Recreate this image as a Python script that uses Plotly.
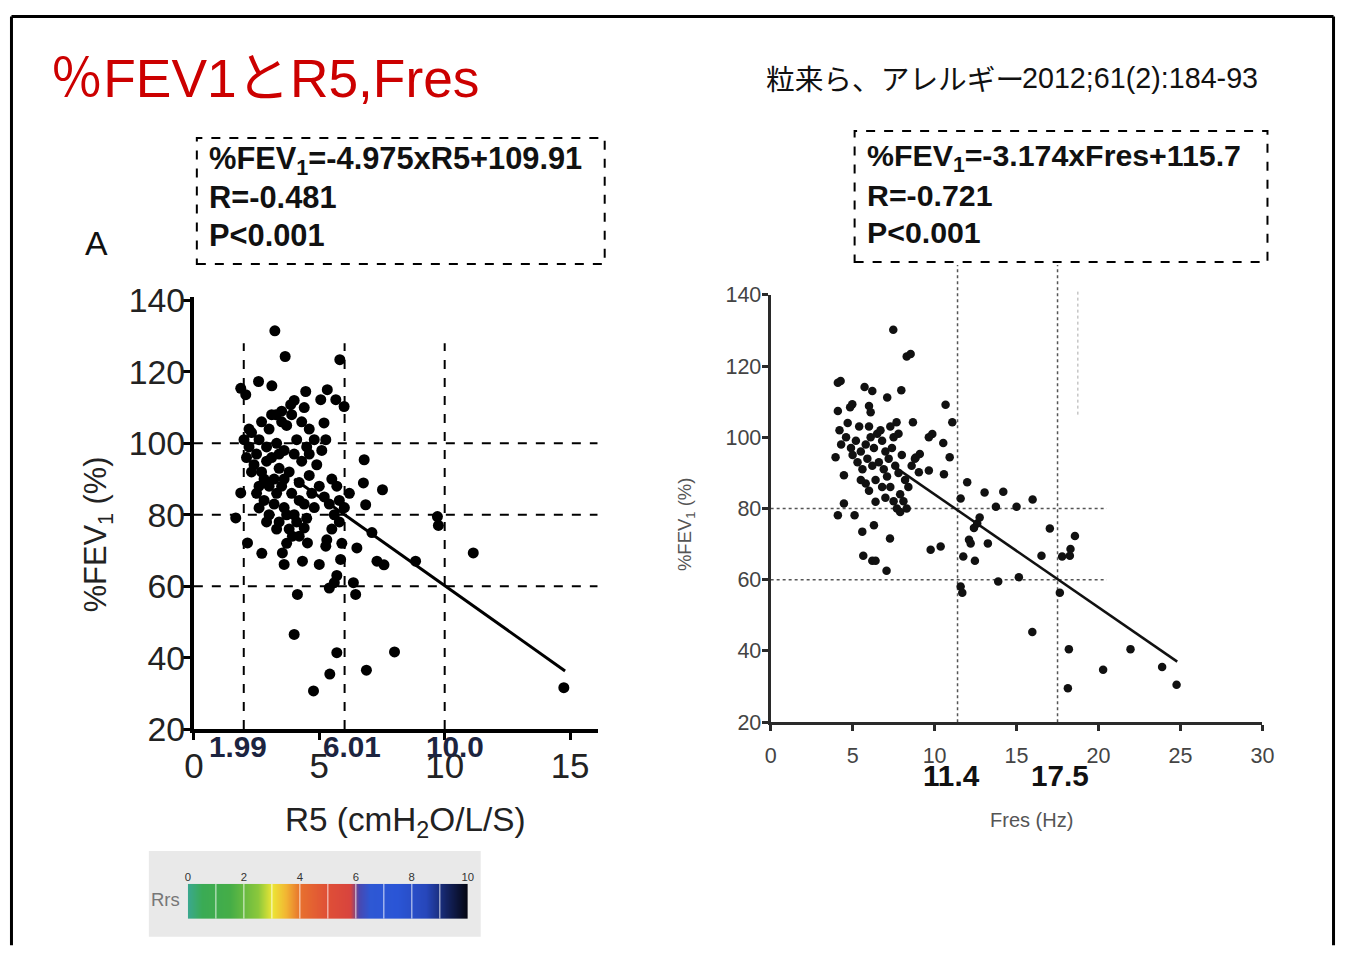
import plotly.graph_objects as go

W, H = 1347, 955
# measured mapping of the photographed page: picture = A * page + B
AX, BX = 0.984, 9.1
AY, BY = 0.966, 14.7
FS = 1.0 / 0.975  # compensation for the photo's down-scaling

# ---------------- data ----------------
# Left panel: R5 (cmH2O/L/S) vs %FEV1
r5_x = [3.23, 3.64, 5.82, 2.58, 3.11, 1.87, 2.07, 4.46, 5.32, 5.99, 5.66, 3.86, 3.27, 5.06, 5.19, 5.26,
        6.79, 6.76, 7.52, 6.85, 1.87, 1.67, 2.6, 2.14, 2.71, 9.71, 9.75, 11.14, 8.84, 7.3, 7.58, 7.1,
        6.5, 6.36, 6.45, 5.6, 5.4, 5.7, 5.85, 4.13, 4.0, 5.7, 8.0, 6.88, 5.42, 4.77, 14.75, 4.33,
        3.53, 3.6, 4.53, 5.0, 5.26, 3.93, 4.4,
        2.0, 2.2, 2.3, 2.5, 2.6, 2.4, 2.7, 2.9, 3.0, 3.1, 3.2, 3.3, 3.4, 3.5, 3.6, 3.7, 3.8, 3.9,
        4.0, 4.1, 4.2, 4.3, 4.4, 4.5, 4.6, 4.7, 2.6, 2.8, 3.0, 3.2, 3.4, 3.6, 3.8, 4.0, 4.2, 2.3,
        2.5, 3.1, 3.5, 3.9, 4.3, 4.6, 2.9, 3.3, 3.7, 4.1, 4.5, 4.8, 5.0, 5.2, 5.4, 5.6, 5.8, 5.5,
        5.3, 5.8, 4.9, 4.4, 4.0, 3.5, 2.7, 2.2, 2.1, 3.4, 3.6, 3.0, 2.8, 4.6, 4.8, 5.1, 5.5, 5.7,
        4.2, 3.7, 3.3, 2.9, 5.9, 6.0, 6.2]
fev1_left = [131.5, 124.3, 123.4, 117.3, 116.1, 115.4, 113.6, 114.5, 115.0, 110.3, 112.2, 110.8, 108.0,
             112.2, 105.7, 101.0, 95.4, 88.9, 87.0, 82.8, 86.1, 79.1, 81.9, 72.1, 69.2, 79.5, 77.0, 69.3,
             67.0, 67.0, 66.0, 75.0, 70.7, 61.0, 57.7, 61.0, 59.5, 63.0, 67.5, 57.7, 46.5, 41.4, 41.6,
             36.5, 35.4, 30.7, 31.6, 67.0, 69.3, 66.1, 72.1, 66.1, 71.2, 74.0, 76.3,
             101, 99, 103, 97, 101, 94, 92, 99, 104, 96, 90, 100, 93, 88, 98, 105, 92, 86,
             97, 101, 89, 95, 83, 99, 91, 86, 88, 84, 80, 83, 78, 82, 76, 80, 84, 92,
             86, 108, 106, 108, 106, 104, 95, 86, 80, 78, 79, 82, 88, 85, 83, 80, 84, 76,
             73, 78, 94, 110, 112, 109, 106, 104, 96, 97, 90, 88, 90, 97, 101, 98, 90, 88,
             74, 72, 76, 78, 72, 82, 86]

# Right panel: Fres (Hz) vs %FEV1
fres_x = [7.48, 8.3, 8.54, 4.27, 4.1, 5.73, 6.2, 7.11, 7.97, 4.98, 4.85, 6.0, 6.1, 4.1, 10.67, 11.08,
          8.68, 7.68, 9.86, 9.65, 10.53, 10.92, 10.57, 9.04, 9.1, 8.85, 9.65, 3.96, 4.47, 4.47, 4.1,
          5.12, 6.4, 6.3, 5.59, 7.28, 5.65, 6.2, 6.4, 7.07, 9.76, 10.37, 11.99, 11.59, 13.05, 14.19,
          13.74, 15.0, 15.98, 12.6, 12.4, 12.75, 12.1, 12.2, 13.25, 11.75, 12.46, 11.59, 11.69, 13.88,
          15.14, 17.03, 16.52, 17.64, 17.78, 18.25, 18.29, 18.56, 15.96, 18.19, 18.13, 21.95, 20.28,
          23.88, 24.76,
          4.3, 4.6, 4.9, 5.2, 5.5, 5.8, 6.1, 6.3, 6.5, 6.8, 7.0, 7.2, 7.4, 7.6, 7.8, 8.0, 8.2, 8.4,
          7.9, 7.7, 7.5, 7.3, 7.1, 6.9, 6.6, 6.2, 5.9, 5.6, 5.3, 5.0, 4.7, 4.2, 5.4, 6.0, 6.7, 7.3,
          6.4, 6.0, 5.8, 5.5, 8.1, 7.9, 8.3, 6.8, 7.0, 7.5, 7.8, 8.6, 8.8]
fev1_right = [130.2, 122.7, 123.4, 115.8, 115.3, 114.1, 113.0, 111.2, 113.2, 109.3, 108.4, 108.8, 107.0,
              107.4, 109.1, 104.2, 104.2, 104.2, 100.9, 100.0, 98.4, 94.4, 89.6, 90.2, 95.3, 94.3, 90.7,
              94.4, 89.3, 81.4, 78.1, 78.1, 81.9, 75.3, 73.5, 71.6, 66.7, 65.3, 65.3, 62.5, 68.4, 69.3,
              87.4, 82.8, 84.5, 84.7, 80.5, 80.5, 82.5, 75.8, 74.5, 77.5, 71.2, 70.2, 70.2, 66.5, 65.3,
              58.1, 56.3, 59.5, 60.7, 74.4, 66.7, 56.3, 66.5, 66.7, 68.6, 72.3, 45.3, 40.5, 29.5, 40.5,
              34.7, 35.5, 30.5,
              98, 100, 97, 99, 96, 98, 100, 97, 101, 99, 96, 94, 97, 92, 90, 95, 88, 86,
              84, 80, 82, 86, 89, 91, 93, 92, 94, 91, 93, 95, 104, 102, 103, 103, 102, 103,
              88, 85, 87, 88, 82, 79, 80, 86, 83, 100, 101, 92, 94]

# regression equations (as printed on the chart)
left_slope, left_icpt = -4.975, 109.91
left_line_x = [4.0, 14.8]
right_slope, right_icpt = -3.174, 115.7
right_line_x = [7.5, 24.8]

left_xticks = [0, 5, 10, 15]
left_yticks = [20, 40, 60, 80, 100, 120, 140]
right_xticks = [0, 5, 10, 15, 20, 25, 30]
right_yticks = [20, 40, 60, 80, 100, 120, 140]

left_cut_x = [1.99, 6.01, 10.0]
left_cut_labels = ["1.99", "6.01", "10.0"]
left_cut_y = [60, 80, 100]
right_cut_x = [11.4, 17.5]
right_cut_labels = ["11.4", "17.5"]
right_cut_y = [60, 80]

rrs_levels = [0, 1, 2, 3, 4, 5, 6, 7, 8, 9, 10]
rrs_ticks = [0, 2, 4, 6, 8, 10]

title_text = "％FEV1とR5,Fres"
cite_jp = "粒来ら、アレルギー"
cite_num = "2012;61(2):184-93"
left_eq = ["%FEV<sub>1</sub>=-4.975xR5+109.91", "R=-0.481", "P&lt;0.001"]
right_eq = ["%FEV<sub>1</sub>=-3.174xFres+115.7", "R=-0.721", "P&lt;0.001"]


# ---------------- helpers (reference pixel -> paper) ----------------
def px(x):
    return ((x - BX) / AX) / W


def py(y):
    return 1 - ((y - BY) / AY) / H


def fs(s):
    return round(s * FS, 1)


SANS = "Liberation Sans, Arial, Noto Sans CJK JP, sans-serif"
NARROW = "Liberation Sans Narrow, Arial Narrow, Liberation Sans, sans-serif"

fig = go.Figure()

# Left panel
fig.add_trace(go.Scatter(x=left_line_x, y=[left_slope * v + left_icpt for v in left_line_x],
                         mode="lines", line=dict(color="black", width=3), xaxis="x", yaxis="y",
                         showlegend=False, hoverinfo="skip"))
fig.add_trace(go.Scatter(x=r5_x, y=fev1_left, mode="markers",
                         marker=dict(color="black", size=11), xaxis="x", yaxis="y", showlegend=False))

# Right panel
fig.add_trace(go.Scatter(x=right_line_x, y=[right_slope * v + right_icpt for v in right_line_x],
                         mode="lines", line=dict(color="#111", width=2.5), xaxis="x2", yaxis="y2",
                         showlegend=False, hoverinfo="skip"))
fig.add_trace(go.Scatter(x=fres_x, y=fev1_right, mode="markers",
                         marker=dict(color="#111", size=8.5), xaxis="x2", yaxis="y2", showlegend=False))

# Rrs colour bar
rrs_scale = [
    [0.0, "#3aa88e"], [0.05, "#3aab55"], [0.15, "#45ad47"], [0.25, "#8cc83c"],
    [0.3, "#ece635"], [0.35, "#f2b533"], [0.4, "#e8712e"], [0.5, "#df4f37"],
    [0.58, "#d8443e"], [0.61, "#4a48b0"], [0.65, "#2e58d4"], [0.75, "#2a55d6"],
    [0.85, "#2747bb"], [0.92, "#152565"], [1.0, "#05060f"]]
fig.add_trace(go.Heatmap(z=[rrs_levels], x=rrs_levels, y=[0], colorscale=rrs_scale,
                         zmin=0, zmax=10, zsmooth="best", showscale=False,
                         xaxis="x3", yaxis="y3", hoverinfo="skip"))

axis_common = dict(showgrid=False, zeroline=False, showline=True, ticks="outside")

fig.update_layout(
    width=W, height=H, autosize=False,
    margin=dict(l=0, r=0, t=0, b=0),
    paper_bgcolor="white", plot_bgcolor="rgba(0,0,0,0)",
    xaxis=dict(domain=[px(193), px(597)], range=[0, 16.1], tickvals=left_xticks,
               linecolor="black", linewidth=4, tickwidth=3, ticklen=7, tickcolor="black",
               tickfont=dict(family=SANS, size=fs(34), color="#222"), anchor="y",
               ticklabelstandoff=-4, **axis_common),
    yaxis=dict(domain=[py(730), py(297)], range=[20, 141], tickvals=left_yticks,
               linecolor="black", linewidth=4, tickwidth=3, ticklen=7, tickcolor="black",
               tickfont=dict(family=SANS, size=fs(33), color="#222"), anchor="x",
               ticklabelstandoff=-9, **axis_common),
    xaxis2=dict(domain=[px(770), px(1262)], range=[0, 30], tickvals=right_xticks,
                linecolor="#2a2a2a", linewidth=3, tickwidth=2.5, ticklen=6, tickcolor="#2a2a2a",
                tickfont=dict(family=NARROW, size=fs(21), color="#444"), anchor="y2",
                ticklabelstandoff=6, **axis_common),
    yaxis2=dict(domain=[py(723), py(295)], range=[20, 140], tickvals=right_yticks,
                linecolor="#2a2a2a", linewidth=3, tickwidth=2.5, ticklen=6, tickcolor="#2a2a2a",
                tickfont=dict(family=NARROW, size=fs(21), color="#444"), anchor="x2",
                ticklabelstandoff=-4, **axis_common),
    xaxis3=dict(domain=[px(187), px(467)], range=[0, 10], tickvals=rrs_ticks, side="top",
                showgrid=False, zeroline=False, showline=False, ticks="",
                tickfont=dict(family=NARROW, size=fs(11), color="#333"), anchor="y3",
                ticklabelstandoff=0),
    yaxis3=dict(domain=[py(920), py(885)], range=[-0.5, 0.5], visible=False, anchor="x3"),
)

shapes = []
# slide frame (as close to the picture's edge as the page allows)
fx0, fx1, fy0 = 1.5 / W, 1 - 1.5 / W, 1 - 1.5 / H
shapes.append(dict(type="line", xref="paper", yref="paper", x0=fx0, x1=fx1, y0=fy0, y1=fy0,
                   line=dict(color="black", width=3)))
shapes.append(dict(type="line", xref="paper", yref="paper", x0=fx0, x1=fx0, y0=fy0, y1=-0.01,
                   line=dict(color="black", width=3)))
shapes.append(dict(type="line", xref="paper", yref="paper", x0=fx1, x1=fx1, y0=fy0, y1=-0.01,
                   line=dict(color="black", width=3)))
# equation boxes
shapes.append(dict(type="rect", xref="paper", yref="paper", x0=px(196), x1=px(604), y0=py(264), y1=py(138),
                   line=dict(color="black", width=2, dash="dash")))
shapes.append(dict(type="rect", xref="paper", yref="paper", x0=px(854), x1=px(1267), y0=py(262), y1=py(131),
                   line=dict(color="black", width=2, dash="dash")))
# left cut lines
for v in left_cut_y:
    shapes.append(dict(type="line", xref="x", yref="y", x0=0, x1=16.1, y0=v, y1=v,
                       line=dict(color="black", width=2, dash="dash"), layer="below"))
for v in left_cut_x:
    shapes.append(dict(type="line", xref="x", yref="y", x0=v, x1=v, y0=20, y1=128,
                       line=dict(color="black", width=2, dash="dash"), layer="below"))
# right cut lines
for v in right_cut_y:
    shapes.append(dict(type="line", xref="x2", yref="y2", x0=0, x1=20.5, y0=v, y1=v,
                       line=dict(color="#555", width=1.5, dash="dot"), layer="below"))
for v in right_cut_x:
    shapes.append(dict(type="line", xref="x2", yref="paper", x0=v, x1=v, y0=py(723), y1=py(265),
                       line=dict(color="#555", width=1.5, dash="dot"), layer="below"))
shapes.append(dict(type="line", xref="x2", yref="paper", x0=18.74, x1=18.74, y0=py(415), y1=py(290),
                   line=dict(color="#aaa", width=1, dash="dot"), layer="below"))
# colour bar background and separators
shapes.append(dict(type="rect", xref="paper", yref="paper", x0=px(148), x1=px(480), y0=py(938), y1=py(852),
                   fillcolor="#e9e9e9", line=dict(width=0), layer="below"))
for v in rrs_levels[1:-1]:
    shapes.append(dict(type="line", xref="x3", yref="y3", x0=v, x1=v, y0=-0.5, y1=0.5,
                       line=dict(color="rgba(255,255,255,0.55)", width=1.5)))
fig.update_layout(shapes=shapes)


def note(text, x, y, size, color="#111", family=SANS, xanchor="center", xref="paper",
         angle=0, xshift=0):
    return dict(text=text, x=x, y=y, xref=xref, yref="paper", xanchor=xanchor, yanchor="middle",
                showarrow=False, textangle=angle, xshift=xshift,
                font=dict(family=family, size=fs(size), color=color))


ann = []
ann.append(note(title_text, px(47), py(78), 52, "#cc0000",
                "Liberation Sans, Noto Sans CJK JP, sans-serif", xanchor="left"))
ann.append(note(cite_jp, px(763), py(77), 28, "#111", "Noto Sans CJK JP, sans-serif", xanchor="left"))
ann.append(note(cite_num, px(1019), py(78), 28, "#111", NARROW, xanchor="left"))
for i, t in enumerate(left_eq):
    ann.append(note("<b>" + t + "</b>", px(206), py(160 + 38 * i), 30, "#111", NARROW, xanchor="left"))
for i, t in enumerate(right_eq):
    ann.append(note("<b>" + t + "</b>", px(864), py(157 + 38 * i), 29.5, "#111", NARROW, xanchor="left"))
ann.append(note("A", px(96), py(243), 33))
for v, t, sh in zip(left_cut_x, left_cut_labels, [-6, 7, 10]):
    ann.append(note("<b>" + t + "</b>", v, py(747), 29, "#1c2440", xref="x", xshift=sh))
for v, t, sh in zip(right_cut_x, right_cut_labels, [-6, 2]):
    ann.append(note("<b>" + t + "</b>", v, py(776), 29, "#111", xref="x2", xshift=sh))
ann.append(note("%FEV<sub>1</sub> (%)", px(97), py(535), 30, "#222", angle=-90))
ann.append(note("R5 (cmH<sub>2</sub>O/L/S)", px(405), py(823), 32.5, "#222"))
ann.append(note("Fres (Hz)", px(1031), py(821), 19.5, "#555", NARROW))
ann.append(note("%FEV<sub>1</sub> (%)", px(686), py(525), 18, "#555", angle=-90))
ann.append(note("Rrs", px(165), py(901), 18, "#777", NARROW))
fig.update_layout(annotations=ann)

fig.write_html("out.html", config={"displayModeBar": False},
               post_script="document.body.style.margin='0';")
